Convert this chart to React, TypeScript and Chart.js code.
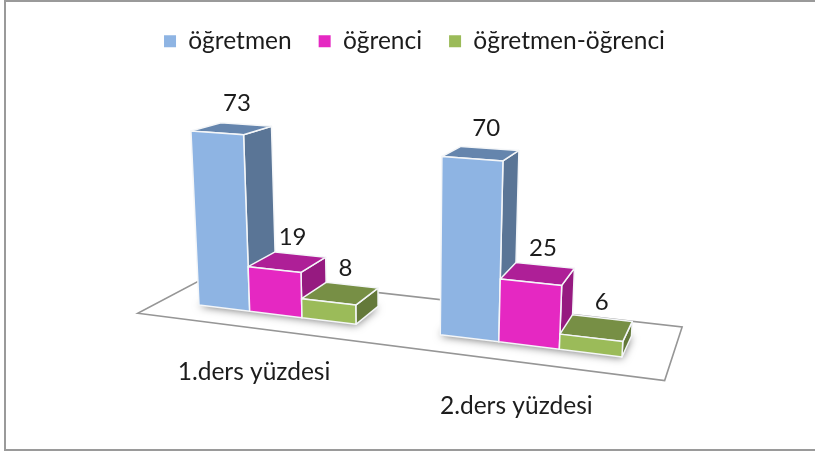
import React, { useEffect, useRef } from "react";
import { Chart, registerables } from "chart.js";

Chart.register(...registerables);

const categories = ["1.ders yüzdesi", "2.ders yüzdesi"];
const seriesNames = ["öğretmen", "öğrenci", "öğretmen-öğrenci"];
const ogretmen = [73, 70];
const ogrenci = [19, 25];
const ogretmenOgrenci = [8, 6];

const frontColors = ["#8EB4E3", "#E528C2", "#9BBB59"];
const sideColors = ["#5A7596", "#961A80", "#64793A"];
const topColors = ["#6585AD", "#AE1F97", "#778F45"];

const FONT = "Lato, Carlito, sans-serif";
const TEXT = "#1c1c1c";

// Camera: world X in bar widths, Y in value units, Z in bar depths.
function project(X: number, Y: number, Z: number): [number, number] {
  const w = 1 - 0.0153 * X - 0.000527 * Y + 0.05 * Z;
  const nx = 199 + 46.88 * X - 0.211 * Y + 40 * Z;
  const ny = 305 + 1.47 * X - 2.452 * Y - 1.75 * Z;
  return [nx / w, ny / w];
}

function poly(ctx: CanvasRenderingContext2D, pts: [number, number][]) {
  ctx.beginPath();
  pts.forEach((p, i) => (i ? ctx.lineTo(p[0], p[1]) : ctx.moveTo(p[0], p[1])));
  ctx.closePath();
}

const bars3d = {
  id: "bars3d",
  beforeDraw(chart: any) {
    const { ctx, width, height } = chart;
    ctx.save();
    ctx.fillStyle = "#ffffff";
    ctx.fillRect(0, 0, width, height);
    ctx.fillStyle = "#9a9a9a";
    ctx.fillRect(4, 0, width - 4, 2);
    ctx.fillRect(4, 0, 2, height);
    ctx.fillRect(4, height - 2, width - 4, 2);
    ctx.restore();
  },
  beforeDatasetsDraw(chart: any) {
    const { ctx, chartArea } = chart;
    const unit = (chartArea.right - chartArea.left) / 9;
    const toX = (px: number) => (px - chartArea.left) / unit - 0.75;
    const yScale = chart.scales.y;
    const xScale = chart.scales.x;

    ctx.save();
    // floor
    const zf = -0.74;
    const zb = 1.74;
    poly(ctx, [
      project(-0.75, 0, zf),
      project(8.25, 0, zf),
      project(8.25, 0, zb),
      project(-0.75, 0, zb),
    ]);
    ctx.fillStyle = "#ffffff";
    ctx.fill();
    ctx.strokeStyle = "#969696";
    ctx.lineWidth = 1.6;
    ctx.stroke();

    // soft shadows on the floor
    categories.forEach((_, c) => {
      const first = chart.getDatasetMeta(0).data[c];
      const last = chart.getDatasetMeta(2).data[c];
      const x0 = toX(first.x - first.width / 2);
      const x1 = toX(last.x + last.width / 2);
      ctx.save();
      ctx.shadowColor = "rgba(0,0,0,0.55)";
      ctx.shadowBlur = 9;
      ctx.shadowOffsetY = 1;
      ctx.fillStyle = "#666666";
      poly(ctx, [project(x0, 0, 0), project(x1, 0, 0), project(x1, 0, 1), project(x0, 0, 1)]);
      ctx.fill();
      ctx.restore();
    });

    // bars: faces
    ctx.lineJoin = "round";
    ctx.lineWidth = 1.5;
    ctx.strokeStyle = "#f4f6f8";
    categories.forEach((_, c) => {
      chart.data.datasets.forEach((_d: any, d: number) => {
        const el = chart.getDatasetMeta(d).data[c];
        const x0 = toX(el.x - el.width / 2);
        const x1 = toX(el.x + el.width / 2);
        const v = yScale.getValueForPixel(el.y);
        poly(ctx, [project(x1, 0, 0), project(x1, 0, 1), project(x1, v, 1), project(x1, v, 0)]);
        ctx.fillStyle = sideColors[d];
        ctx.fill();
        ctx.stroke();
        poly(ctx, [project(x0, v, 0), project(x1, v, 0), project(x1, v, 1), project(x0, v, 1)]);
        ctx.fillStyle = topColors[d];
        ctx.fill();
        ctx.stroke();
        poly(ctx, [project(x0, 0, 0), project(x1, 0, 0), project(x1, v, 0), project(x0, v, 0)]);
        ctx.fillStyle = frontColors[d];
        ctx.fill();
        ctx.stroke();
      });
    });

    // value labels and category labels
    ctx.fillStyle = TEXT;
    ctx.textAlign = "center";
    ctx.textBaseline = "middle";
    ctx.font = `24px ${FONT}`;
    chart.data.datasets.forEach((ds: any, d: number) => {
      chart.getDatasetMeta(d).data.forEach((el: any, c: number) => {
        const X = toX(el.x);
        const [lx, ly] = project(X, ds.data[c], 0.5);
        ctx.fillText(String(ds.data[c]), lx + 5, ly - 25);
      });
    });
    ctx.font = `24.5px ${FONT}`;
    categories.forEach((label, c) => {
      const X = toX(xScale.getPixelForValue(c));
      const [lx, ly] = project(X, 0, zf);
      ctx.fillText(label, lx - 1, ly + 44);
    });
    ctx.restore();
  },
  beforeDatasetDraw() {
    return false; // the faces are drawn above from the same elements
  },
};

export default function App() {
  const ref = useRef<HTMLCanvasElement | null>(null);
  useEffect(() => {
    document.body.style.margin = "0";
    const seriesValues = [ogretmen, ogrenci, ogretmenOgrenci];
    const chart = new Chart(ref.current as HTMLCanvasElement, {
      type: "bar",
      data: {
        labels: categories,
        datasets: seriesNames.map((name, i) => ({
          label: name,
          data: seriesValues[i],
          backgroundColor: frontColors[i],
          borderWidth: 0,
          barPercentage: 1,
          categoryPercentage: 3 / 4.5,
        })),
      },
      options: {
        responsive: false,
        animation: false,
        layout: { padding: { left: 14, top: 2 } },
        scales: {
          x: { display: false },
          y: { display: false, min: 0, max: 100 },
        },
        plugins: {
          tooltip: { enabled: false },
          legend: {
            display: true,
            position: "top",
            labels: {
              boxWidth: 12,
              boxHeight: 12,
              padding: 27,
              color: TEXT,
              font: { family: FONT, size: 24.5 },
            },
          },
        },
      },
      plugins: [bars3d],
    });
    return () => chart.destroy();
  }, []);
  return <canvas ref={ref} width={815} height={451} style={{ display: "block" }} />;
}
